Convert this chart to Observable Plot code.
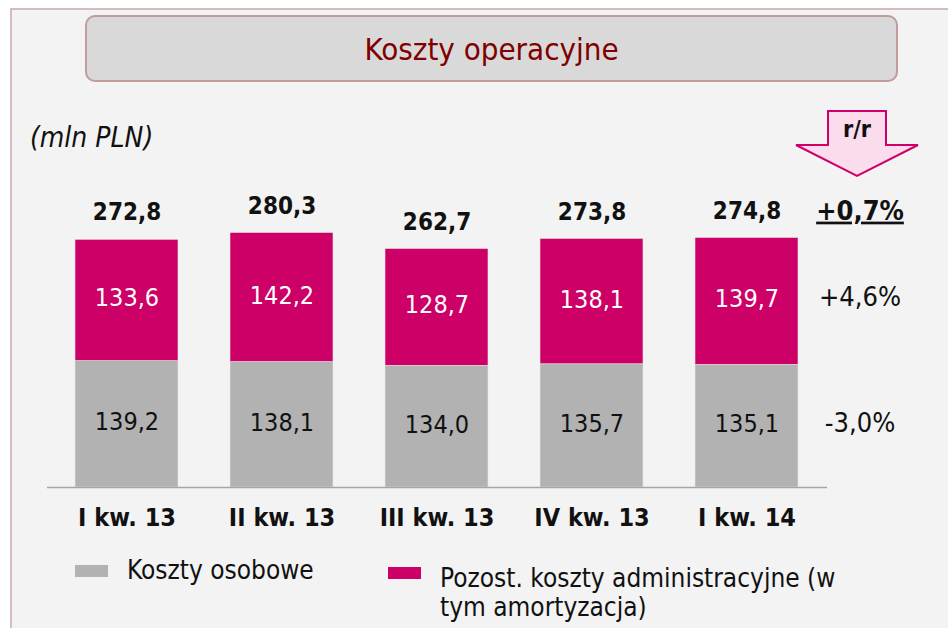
<!DOCTYPE html>
<html>
<head>
<meta charset="utf-8">
<script src="https://cdn.jsdelivr.net/npm/d3@7"></script>
<script src="https://cdn.jsdelivr.net/npm/@observablehq/plot@0.6"></script>
<style>
  html, body { margin: 0; padding: 0; background: #ffffff; }
  #page { position: relative; width: 948px; height: 628px; overflow: hidden; font-family: "DejaVu Sans Condensed", "DejaVu Sans", sans-serif; }
  #panel { position: absolute; left: 10px; top: 8px; width: 960px; height: 640px; background: #f3f3f3; border-left: 2px solid #d6bcbc; border-top: 2px solid #d6bcbc; }
  #title { position: absolute; left: 85px; top: 15px; width: 813px; height: 67px; background: #d9d9d9; border: 2px solid #c19c9c; border-radius: 10px; box-sizing: border-box; color: #7f0000; font-size: 31px; display: flex; align-items: center; justify-content: center; }
  #unit { position: absolute; left: 30px; top: 121px; font-style: italic; font-size: 28px; color: #111; }
  #arrow { position: absolute; left: 0; top: 0; }
  #chart { position: absolute; left: 0; top: 160px; }
  #legend { position: absolute; left: 0; top: 552px; font-size: 26px; color: #111; }
  .sw { position: absolute; width: 33px; height: 12px; }
  .lt { position: absolute; line-height: 29px; white-space: nowrap; }
</style>
</head>
<body>
<div id="page">
  <div id="panel"></div>
  <div id="title">Koszty operacyjne</div>
  <div id="unit">(mln PLN)</div>
  <svg id="arrow" width="948" height="200">
    <polygon points="828,111 886,111 886,145 918,145 857,176 796,145 828,145" fill="#fbdcec" stroke="#d0006a" stroke-width="2"/>
    <text x="857" y="137" text-anchor="middle" font-family="DejaVu Sans Condensed, DejaVu Sans, sans-serif" font-weight="bold" font-size="23" fill="#111">r/r</text>
  </svg>
  <div id="chart"></div>
  <div id="legend">
    <div class="sw" style="left:75px; top:13px; background:#b2b2b2"></div>
    <div class="lt" style="left:127px; top:4px">Koszty osobowe</div>
    <div class="sw" style="left:388px; top:15px; background:#cc0066"></div>
    <div class="lt" style="left:440px; top:12px">Pozost. koszty administracyjne (w<br>tym amortyzacja)</div>
  </div>
</div>
<script>
const categories = ["I kw. 13", "II kw. 13", "III kw. 13", "IV kw. 13", "I kw. 14"];
const osobowe = [139.2, 138.1, 134.0, 135.7, 135.1];
const pozostale = [133.6, 142.2, 128.7, 138.1, 139.7];
const totals = [272.8, 280.3, 262.7, 273.8, 274.8];
const rrTotal = "+0,7%";
const rrPozostale = "+4,6%";
const rrOsobowe = "-3,0%";

const fmt = v => d3.format(".1f")(v).replace(".", ",");
const GRAY = "#b2b2b2", MAG = "#cc0066";

const rows = [];
categories.forEach((c, i) => {
  rows.push({cat: c, series: "Koszty osobowe", value: osobowe[i], y1: 0, y2: osobowe[i]});
  rows.push({cat: c, series: "Pozost.", value: pozostale[i], y1: osobowe[i], y2: osobowe[i] + pozostale[i]});
});
const totalRows = categories.map((c, i) => ({cat: c, total: totals[i]}));
const last = categories.length - 1;
const rrRows = [
  {cat: categories[last], y: totals[last], label: rrTotal, dy: -27, size: 27, weight: "bold", cls: true},
  {cat: categories[last], y: osobowe[last] + pozostale[last] / 2, label: rrPozostale, dy: -4, size: 27, weight: "normal"},
  {cat: categories[last], y: osobowe[last] / 2, label: rrOsobowe, dy: -3, size: 27, weight: "normal"}
];

const plot = Plot.plot({
  width: 948,
  height: 400,
  marginLeft: 47,
  marginRight: 121,
  marginTop: 54.6,
  marginBottom: 73,
  style: {background: "transparent", fontFamily: "DejaVu Sans Condensed, DejaVu Sans, sans-serif", overflow: "visible"},
  x: {domain: categories, paddingInner: 0.333, paddingOuter: 0.1667, axis: null},
  y: {domain: [0, 300], axis: null},
  marks: [
    Plot.rectY(rows, {x: "cat", y1: "y1", y2: "y2", fill: d => d.series === "Koszty osobowe" ? GRAY : MAG, stroke: "#e6e6e6", strokeWidth: 0.6}),
    Plot.ruleY([0], {stroke: "#a6a6a6", strokeWidth: 1.5}),
    Plot.text(rows, {x: "cat", y: d => (d.y1 + d.y2) / 2, text: d => fmt(d.value), fill: d => d.series === "Koszty osobowe" ? "#111" : "#ffffff", fontSize: 25, dy: -2}),
    Plot.text(totalRows, {x: "cat", y: "total", text: d => fmt(d.total), fontSize: 24, fontWeight: "bold", fill: "#111", dy: -27}),
    Plot.axisX({tickSize: 0, tickPadding: 21, fontSize: 25, fontWeight: "bold", color: "#111", label: null}),
    ...rrRows.map(r => Plot.text([r], {x: "cat", y: "y", text: "label", dx: 113, dy: r.dy, fontSize: r.size, fontWeight: r.weight, fill: "#111", className: r.cls ? "under" : undefined}))
  ]
});
document.getElementById("chart").appendChild(plot);
document.querySelectorAll(".under text").forEach(t => t.setAttribute("text-decoration", "underline"));
</script>
</body>
</html>
